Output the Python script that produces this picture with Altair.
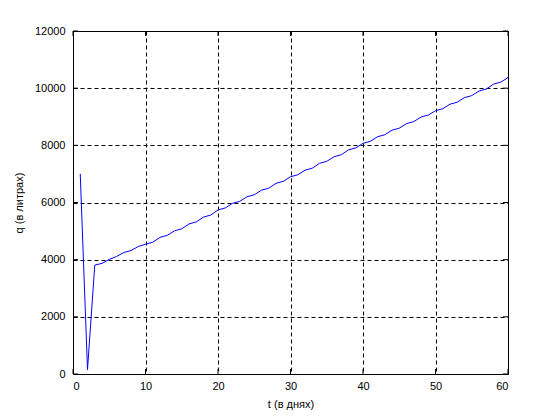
import altair as alt
import pandas as pd

days = list(range(1, 61))
q_values = [
    7000, 150, 3810, 3870, 4010, 4110, 4250, 4320, 4460, 4540,
    4610, 4780, 4850, 5010, 5080, 5250, 5320, 5490, 5560, 5740,
    5810, 5970, 6040, 6200, 6270, 6430, 6500, 6670, 6740, 6900,
    6970, 7130, 7200, 7370, 7440, 7600, 7670, 7840, 7910, 8070,
    8140, 8300, 8370, 8530, 8600, 8760, 8830, 8990, 9060, 9210,
    9280, 9440, 9510, 9670, 9740, 9900, 9970, 10140, 10210, 10370,
]
x_ticks = [0, 10, 20, 30, 40, 50, 60]
y_ticks = [0, 2000, 4000, 6000, 8000, 10000, 12000]

W, H = 435, 343
FONT = "Liberation Sans"

df = pd.DataFrame({"t": days, "q": q_values})
xt = pd.DataFrame({"t": x_ticks})
yt = pd.DataFrame({"q": y_ticks})

xscale = alt.Scale(domain=[0, 60], nice=False, zero=False)
yscale = alt.Scale(domain=[0, 12000], nice=False, zero=False)

xaxis = alt.Axis(values=x_ticks, grid=True, tickSize=0, domain=False,
                 labelPadding=6, titlePadding=7, format="d")
yaxis = alt.Axis(values=y_ticks, grid=True, tickSize=0, domain=False,
                 labelPadding=8, titlePadding=10, format="d")

line = alt.Chart(df).mark_line(color="#0000FF", strokeWidth=1).encode(
    x=alt.X("t:Q", scale=xscale, title="t (в днях)", axis=xaxis),
    y=alt.Y("q:Q", scale=yscale, title="q (в литрах)", axis=yaxis),
)

xb = alt.Chart(xt).mark_rule(color="black", strokeWidth=1).encode(
    x=alt.X("t:Q", scale=xscale, title="t (в днях)", axis=xaxis),
    y=alt.value(H), y2=alt.value(H - 5))
xtp = alt.Chart(xt).mark_rule(color="black", strokeWidth=1).encode(
    x=alt.X("t:Q", scale=xscale, title="t (в днях)", axis=xaxis),
    y=alt.value(0), y2=alt.value(5))
yl = alt.Chart(yt).mark_rule(color="black", strokeWidth=1).encode(
    y=alt.Y("q:Q", scale=yscale, title="q (в литрах)", axis=yaxis),
    x=alt.value(0), x2=alt.value(5))
yr = alt.Chart(yt).mark_rule(color="black", strokeWidth=1).encode(
    y=alt.Y("q:Q", scale=yscale, title="q (в литрах)", axis=yaxis),
    x=alt.value(W), x2=alt.value(W - 5))

chart = alt.layer(line, xb, xtp, yl, yr).properties(
    width=W, height=H,
    autosize=alt.AutoSizeParams(type="none"),
    padding={"left": 65, "top": 23, "right": 40, "bottom": 40},
    background="white",
).configure_view(
    stroke="black", strokeWidth=1
).configure_axis(
    gridColor="black", gridDash=[4, 3], gridOpacity=1, gridWidth=1,
    labelFont=FONT, labelFontSize=11, labelColor="black",
    titleFont=FONT, titleFontSize=11, titleColor="black", titleFontWeight="normal",
)

chart.save("out.html", embed_options={"renderer": "svg", "actions": False})
